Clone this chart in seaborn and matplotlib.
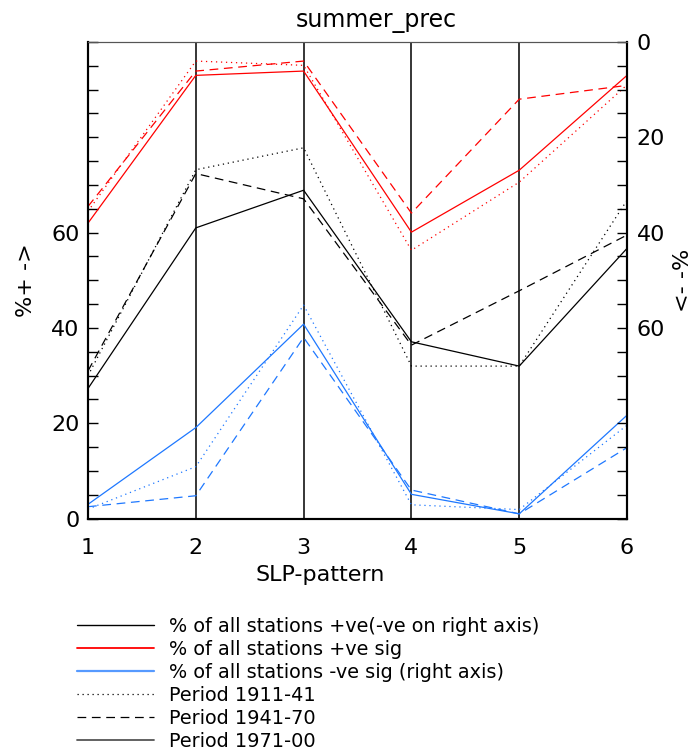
import pandas as pd
import seaborn as sns
import matplotlib.pyplot as plt
from matplotlib.lines import Line2D
from matplotlib.ticker import MultipleLocator, FuncFormatter

# SLP patterns on the x axis
slp = [1, 2, 3, 4, 5, 6]

# % of all stations +ve (left axis)
pos_1911 = [30.0, 73.2, 77.8, 32.0, 32.0, 66.8]
pos_1941 = [31.0, 72.4, 67.1, 36.4, 47.8, 59.5]
pos_1971 = [27.3, 61.0, 68.9, 37.1, 32.0, 56.7]

# % of all stations +ve sig
sigpos_1911 = [64.5, 96.0, 95.1, 56.3, 70.6, 91.0]
sigpos_1941 = [65.5, 93.9, 96.0, 64.1, 88.0, 90.9]
sigpos_1971 = [62.0, 93.0, 93.9, 60.1, 73.1, 93.0]

# % of all stations -ve sig (as drawn on the plot)
signeg_1911 = [2.0, 10.9, 44.8, 2.9, 1.9, 19.6]
signeg_1941 = [2.5, 4.8, 38.0, 6.0, 1.0, 14.9]
signeg_1971 = [3.0, 19.1, 40.8, 5.1, 1.0, 21.7]

series = {
    ('pos', '1911-41'): pos_1911, ('pos', '1941-70'): pos_1941, ('pos', '1971-00'): pos_1971,
    ('sigpos', '1911-41'): sigpos_1911, ('sigpos', '1941-70'): sigpos_1941, ('sigpos', '1971-00'): sigpos_1971,
    ('signeg', '1911-41'): signeg_1911, ('signeg', '1941-70'): signeg_1941, ('signeg', '1971-00'): signeg_1971,
}

rows = []
for (kind, per), vals in series.items():
    for x, v in zip(slp, vals):
        rows.append({'slp': x, 'value': v, 'kind': kind, 'period': per})
df = pd.DataFrame(rows)

blue = '#1e78ff'
palette = {'pos': 'black', 'sigpos': '#ff0000', 'signeg': blue}
dashes = {'1911-41': (1, 3), '1941-70': (7, 4.5), '1971-00': ''}

sns.set_style('white')
plt.rcParams['font.family'] = ['DejaVu Sans']
plt.rcParams['text.color'] = 'black'
plt.rcParams['axes.labelcolor'] = 'black'
plt.rcParams['xtick.color'] = 'black'
plt.rcParams['ytick.color'] = 'black'

fig = plt.figure(figsize=(6.94, 7.5), dpi=100)
ax = fig.add_subplot(111)
fig.subplots_adjust(left=0.1268, right=0.9035, top=0.944, bottom=0.3085)

# vertical lines at the inner patterns
for x in slp[1:-1]:
    ax.axvline(x, color='black', lw=1.1, zorder=1)

sns.lineplot(data=df, x='slp', y='value', hue='kind', style='period',
             palette=palette, dashes=dashes, linewidth=0.9,
             errorbar=None, legend=False, ax=ax, zorder=3)

ax.set_xlim(1, 6)
ax.set_ylim(0, 100)
ax.set_xticks(slp)
ax.tick_params(axis='x', length=0, pad=14, labelsize=16)

lab = FuncFormatter(lambda v, p: f'{v:.0f}' if v in (0, 20, 40, 60) else '')
ax.yaxis.set_major_locator(MultipleLocator(5))
ax.yaxis.set_major_formatter(lab)
ax.tick_params(axis='y', direction='in', length=7, width=1, labelsize=16, pad=6,
               left=True)

ax2 = ax.twinx()
ax2.set_ylim(100, 0)
ax2.yaxis.set_major_locator(MultipleLocator(5))
ax2.yaxis.set_major_formatter(lab)
ax2.tick_params(axis='y', direction='in', length=7, width=1, labelsize=16, pad=7,
                right=True)

for a in (ax, ax2):
    for side in ('left', 'right', 'bottom'):
        a.spines[side].set_linewidth(1.5)
        a.spines[side].set_color('black')
    a.spines['top'].set_linewidth(0.8)
    a.spines['top'].set_color('#555555')

ax.set_xlabel('SLP-pattern', fontsize=16)
ax.xaxis.set_label_coords(0.43, -0.0974)
ax.set_ylabel('%+ ->', fontsize=16)
ax.yaxis.set_label_coords(-0.097, 0.5)
ax2.set_ylabel('<- -%', fontsize=16, rotation=90)
ax2.yaxis.set_label_coords(1.085, 0.5)

ax.set_title('summer_prec', fontsize=17, x=(376 - 88) / 539, pad=11)

# legend under the plot
handles = [
    Line2D([], [], color='black', lw=1.0),
    Line2D([], [], color='#ff0000', lw=1.3),
    Line2D([], [], color=blue, lw=1.6, alpha=0.75),
    Line2D([], [], color='black', lw=0.9, dashes=(1, 3)),
    Line2D([], [], color='black', lw=0.9, dashes=(7, 4.5)),
    Line2D([], [], color='#555555', lw=1.3),
]
labels = [
    '% of all stations +ve(-ve on right axis)',
    '% of all stations +ve sig',
    '% of all stations -ve sig (right axis)',
    'Period 1911-41',
    'Period 1941-70',
    'Period 1971-00',
]
fig.legend(handles, labels, loc='upper left', bbox_to_anchor=(0.111, 0.177),
           frameon=False, fontsize=13.9, handlelength=4.0, handletextpad=0.77,
           labelspacing=0.2, borderpad=0, borderaxespad=0)

fig.savefig('out.png', dpi=100)
